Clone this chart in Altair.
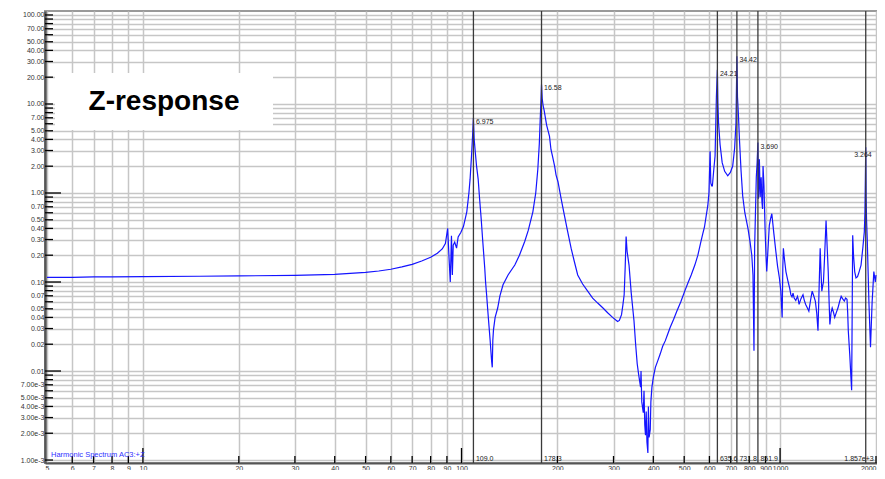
import json
import altair as alt
import pandas as pd

# ---------------- data ----------------
freq = [5, 6, 7, 8, 10, 15, 20, 30, 40, 50, 55, 60, 65, 70, 75, 80, 84, 87, 89,
        90.5, 91.3, 92.2, 93.0, 93.6, 94.2, 95.2, 96.5, 97.6, 99.5, 101.4, 103.9,
        105.5, 106.4, 107.5, 108.3, 109.0, 109.6, 110.5, 111.5, 112.8, 114, 115.3,
        116.5, 118.3, 119.0, 119.9, 120.8, 121.6, 123, 124.3, 124.9, 125.4, 126.0,
        127.5, 129.9, 132, 135, 140, 147, 152, 157.9, 162, 167.5, 171, 173.6, 175.5,
        176.6, 177.6, 178.3, 179.2, 180.4, 181.6, 185, 188.9, 190.9, 193, 196, 198,
        200.9, 205, 210.6, 215, 220.8, 226, 231.6, 240, 248.9, 258, 267.6, 278,
        287.5, 298, 309, 313, 317.9, 321, 324, 326.5, 328.6, 331, 335.6, 341, 347.8,
        352, 356.1, 360, 364.8, 366, 368, 372, 374, 376, 378, 380, 382, 384.6, 386,
        388, 391.3, 393, 396, 400, 406, 413, 420.6, 428, 436, 444, 452, 463, 474,
        488, 502, 514, 526, 540, 552, 564, 572, 579, 586, 593, 598, 603, 606, 610,
        613, 619, 625, 631, 635.6, 638, 641, 648, 658, 670, 685, 698, 710, 720, 727,
        731.8, 735, 740, 745, 754, 763, 775, 793, 805, 815, 822, 828, 832, 837, 842,
        847, 851.9, 855, 858, 861, 866, 872, 877, 881, 884, 890, 897, 903, 908, 914,
        925, 934, 942, 956, 970, 982, 995, 1005, 1015, 1020, 1024, 1032, 1043, 1060,
        1072, 1081, 1090, 1098, 1107, 1120, 1134, 1140, 1147, 1163, 1180, 1190, 1203,
        1215, 1231, 1246, 1261, 1275, 1290, 1303, 1315, 1325, 1336, 1344, 1352, 1360,
        1368, 1380, 1394, 1405, 1416, 1425, 1433, 1445, 1457, 1470, 1484, 1500, 1519,
        1537, 1555, 1570, 1591, 1605, 1622, 1630, 1637, 1655, 1670, 1677, 1684, 1690,
        1700, 1715, 1731, 1750, 1770, 1795, 1820, 1838, 1846, 1852, 1857, 1862, 1868,
        1877, 1900, 1922, 1945, 1969, 1990, 2000]

mag = [0.113, 0.113, 0.114, 0.114, 0.115, 0.116, 0.117, 0.119, 0.122, 0.128, 0.133,
       0.139, 0.148, 0.158, 0.172, 0.19, 0.21, 0.235, 0.27,
       0.40, 0.20, 0.10, 0.33, 0.12, 0.26, 0.28, 0.24, 0.32, 0.36, 0.42, 0.615,
       1.0, 1.43, 2.6, 4.3, 6.975, 4.0, 2.85, 2.0, 1.43, 0.85, 0.51,
       0.30, 0.143, 0.10, 0.072, 0.05, 0.037, 0.022, 0.013, 0.011, 0.022, 0.029,
       0.04, 0.051, 0.07, 0.093, 0.12, 0.155, 0.2, 0.285, 0.38, 0.615, 1.0, 1.85, 3.6,
       6.6, 11, 16.58, 11.5, 9.5, 8.6, 5.8, 4.33, 3.08, 2.6, 2.0, 1.6,
       1.33, 0.9, 0.55, 0.38, 0.24, 0.17, 0.12, 0.095, 0.079, 0.066, 0.058, 0.051,
       0.0452, 0.040, 0.036, 0.037, 0.043, 0.055, 0.072, 0.15, 0.325, 0.22, 0.155, 0.075, 0.037,
       0.02, 0.012, 0.009, 0.0066, 0.010, 0.0045, 0.0034, 0.006, 0.0025, 0.0019, 0.0035, 0.0016, 0.0012, 0.004,
       0.0018, 0.0022, 0.0045, 0.0066, 0.0085, 0.011, 0.013, 0.0156, 0.019, 0.0218, 0.026, 0.031, 0.038, 0.047,
       0.06, 0.079, 0.098, 0.12, 0.155, 0.2, 0.283, 0.35, 0.415, 0.55, 0.72, 1.0, 2.95, 1.3, 1.2,
       1.2, 1.8, 2.6, 12, 24.21, 10, 6.1, 3.5, 2.19, 1.75, 1.56, 1.7, 2.01, 3.2, 6.1,
       34.42, 12, 7.5, 4.2, 1.8, 0.93, 0.6, 0.398, 0.28, 0.2, 0.12, 0.0169, 0.25, 0.61, 1.5,
       2.19, 3.69, 0.86, 1.2, 2.39, 0.9, 1.5, 0.8, 0.66, 2.01, 1.2, 0.4, 0.2, 0.131, 0.2,
       0.433, 0.52, 0.585, 0.35, 0.219, 0.15, 0.111, 0.08, 0.04, 0.15, 0.239, 0.18, 0.131, 0.1,
       0.085, 0.072, 0.068, 0.075, 0.066, 0.062, 0.069, 0.064, 0.056, 0.065, 0.072, 0.063, 0.056,
       0.052, 0.047, 0.062, 0.079, 0.07, 0.061, 0.045, 0.0283, 0.08, 0.239, 0.13, 0.079, 0.09,
       0.1, 0.2, 0.49, 0.25, 0.131, 0.06, 0.0334, 0.045, 0.051, 0.046, 0.04, 0.045, 0.051,
       0.06, 0.069, 0.065, 0.061, 0.066, 0.064, 0.045, 0.0283, 0.015, 0.008, 0.0061, 0.05, 0.335,
       0.2, 0.13, 0.111, 0.115, 0.13, 0.155, 0.25, 0.366, 0.6, 1.43, 3.264, 0.9, 0.5,
       0.31, 0.06, 0.0185, 0.06, 0.131, 0.1, 0.12]

cursor_freq = [109.0, 178.3, 635.6, 731.8, 851.9, 1857.0]
cursor_peak = [6.975, 16.58, 24.21, 34.42, 3.690, 3.264]
cursor_peak_text = ["6.975", "16.58", "24.21", "34.42", "3.690", "3.264"]
cursor_freq_text = ["109.0", "178.3", "635.6", "731.8", "851.9", "1.857e+3"]

x_ticks = [5, 6, 7, 8, 9, 10, 20, 30, 40, 50, 60, 70, 80, 90, 100, 200, 300, 400,
           500, 600, 700, 800, 900, 1000, 2000]
x_major = [10, 100, 1000]
x_minor = [6, 7, 8, 9, 20, 30, 40, 50, 60, 70, 80, 90, 200, 300, 400, 500, 600,
           700, 800, 900, 2000]

y_grid = [0.001, 0.002, 0.003, 0.004, 0.005, 0.006, 0.007, 0.008, 0.009,
          0.01, 0.02, 0.03, 0.04, 0.05, 0.06, 0.07, 0.08, 0.09,
          0.1, 0.2, 0.3, 0.4, 0.5, 0.6, 0.7, 0.8, 0.9,
          1, 2, 3, 4, 5, 6, 7, 8, 9,
          10, 20, 30, 40, 50, 60, 70, 80, 90, 100]
y_labels = [0.001, 0.002, 0.003, 0.004, 0.005, 0.007,
            0.01, 0.02, 0.03, 0.04, 0.05, 0.07,
            0.1, 0.2, 0.3, 0.4, 0.5, 0.7,
            1, 2, 3, 4, 5, 7,
            10, 20, 30, 40, 50, 70, 100]
y_major = [0.01, 0.1, 1]
y_minor = [v for v in y_grid if v not in y_major]

title_text = "Z-response"
series_text = "Harmonic Spectrum AC3:+Z"

# ---------------- geometry / style ----------------
W, H = 832, 452
X_DOMAIN = [4.928, 2014.5]
Y_DOMAIN = [0.000926, 110.8]
FONT = "Liberation Sans"

xs = alt.Scale(type="log", domain=X_DOMAIN, nice=False, zero=False)
ys = alt.Scale(type="log", domain=Y_DOMAIN, nice=False, zero=False)

label_expr = ("indexof(" + json.dumps(y_labels) + ", datum.value) < 0 ? '' : "
              "(datum.value < 0.0095 ? format(datum.value, '.2e') : format(datum.value, '.2f'))")

curve_df = pd.DataFrame({"f": freq, "v": mag})
cursor_df = pd.DataFrame({"f": cursor_freq, "v": cursor_peak,
                          "pt": cursor_peak_text, "ft": cursor_freq_text})
one = pd.DataFrame({"a": [0]})

x_axis = alt.Axis(values=x_ticks, title="", ticks=False, labelOverlap=False,
                  labelFlush=1.5, labelFontSize=7, labelColor="#333", labelPadding=1,
                  labelFont=FONT, grid=True, gridColor="#c6c6c6", gridWidth=1.5,
                  domainColor="#555", domainWidth=2, format="d")
y_axis = alt.Axis(values=y_grid, title="", ticks=False, labelOverlap=False,
                  labelExpr=label_expr, labelFontSize=7, labelColor="#333",
                  labelPadding=1, labelFont=FONT, grid=True, gridColor="#c6c6c6",
                  gridWidth=1.5, domainColor="#555", domainWidth=2.5)

curve = alt.Chart(curve_df).mark_line(color="#1414ff", strokeWidth=1.2, clip=True).encode(
    x=alt.X("f:Q", scale=xs, axis=x_axis),
    y=alt.Y("v:Q", scale=ys, axis=y_axis),
)

box = alt.Chart(one).mark_rect(color="white").encode(
    x=alt.value(10), x2=alt.value(228), y=alt.value(62), y2=alt.value(119))
title = alt.Chart(one).mark_text(text=title_text, font=FONT, fontSize=28,
                                 fontWeight="bold", color="black",
                                 align="center", baseline="middle").encode(
    x=alt.value(119), y=alt.value(91))

cursor_lines = alt.Chart(cursor_df).mark_rule(color="#3a3a3a", strokeWidth=1.3).encode(
    x=alt.X("f:Q", scale=xs))

peak_left = alt.Chart(cursor_df.iloc[:5]).mark_text(
    font=FONT, fontSize=7, color="#222", align="left", baseline="top", dx=2.5).encode(
    x=alt.X("f:Q", scale=xs), y=alt.Y("v:Q", scale=ys), text="pt:N")
peak_right = alt.Chart(cursor_df.iloc[5:]).mark_text(
    font=FONT, fontSize=7, color="#222", align="right", baseline="top", dx=6, dy=4).encode(
    x=alt.X("f:Q", scale=xs), y=alt.Y("v:Q", scale=ys), text="pt:N")

freq_left = alt.Chart(cursor_df.iloc[:5]).mark_text(
    font=FONT, fontSize=7, color="#222", align="left", baseline="middle", dx=2.5).encode(
    x=alt.X("f:Q", scale=xs), y=alt.value(H - 4.5), text="ft:N")
freq_right = alt.Chart(cursor_df.iloc[5:]).mark_text(
    font=FONT, fontSize=7, color="#222", align="right", baseline="middle", dx=8).encode(
    x=alt.X("f:Q", scale=xs), y=alt.value(H - 4.5), text="ft:N")

series_label = alt.Chart(one).mark_text(text=series_text, font=FONT, fontSize=7.5,
                                        color="#3030ff", align="left",
                                        baseline="middle").encode(
    x=alt.value(6), y=alt.value(H - 8))

# inward ticks
yt_major = alt.Chart(pd.DataFrame({"v": y_major})).mark_rule(color="black", strokeWidth=1.3).encode(
    y=alt.Y("v:Q", scale=ys), x=alt.value(0), x2=alt.value(16))
yt_minor = alt.Chart(pd.DataFrame({"v": y_minor})).mark_rule(color="black", strokeWidth=1.3).encode(
    y=alt.Y("v:Q", scale=ys), x=alt.value(0), x2=alt.value(8))
xt_major = alt.Chart(pd.DataFrame({"f": x_major})).mark_rule(color="black", strokeWidth=1.3).encode(
    x=alt.X("f:Q", scale=xs), y=alt.value(H), y2=alt.value(H - 15))
xt_minor = alt.Chart(pd.DataFrame({"f": x_minor})).mark_rule(color="black", strokeWidth=1.3).encode(
    x=alt.X("f:Q", scale=xs), y=alt.value(H), y2=alt.value(H - 7))

chart = alt.layer(
    curve, box, title, cursor_lines, yt_major, yt_minor, xt_major, xt_minor,
    peak_left, peak_right, freq_left, freq_right, series_label,
).properties(
    width=W, height=H,
    autosize=alt.AutoSizeParams(type="none"),
    padding={"left": 37, "top": 3, "right": 0, "bottom": 7},
    background="white",
).configure_view(stroke="#9a9a9a", strokeWidth=2)

chart.save("out.html", embed_options={"renderer": "svg", "actions": False})
